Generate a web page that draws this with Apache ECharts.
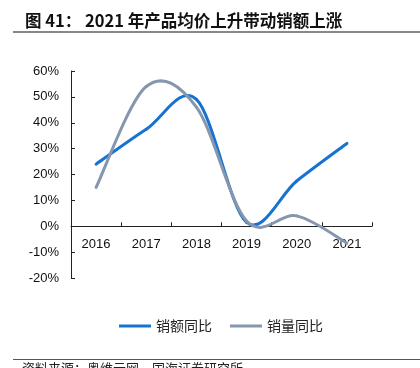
<!DOCTYPE html>
<html>
<head>
<meta charset="utf-8">
<script src="https://cdn.jsdelivr.net/npm/echarts@6/dist/echarts.min.js"></script>
<style>
html, body { margin: 0; padding: 0; background: #fff; }
#chart { width: 420px; height: 368px; }
</style>
</head>
<body>
<div id="chart"></div>
<script>
// 年份
var years = ["2016", "2017", "2018", "2019", "2020", "2021"]
// 销额同比 (%)
var salesValueYoY = [24, 37.5, 49, 1.5, 17.5, 32]
// 销量同比 (%)
var salesVolumeYoY = [15, 54, 46, 2, 4, -6.5]
// y轴刻度
var yMin = -20
var yMax = 60
var yStep = 10

var font = "'Liberation Sans', Arial, sans-serif"
var cjk = "'Noto Sans CJK SC', sans-serif"

// 平滑曲线(类似Excel的平滑线), 每段用贝塞尔曲线画
function smoothLine(name, values, color) {
	return {
		name: name,
		type: "custom",
		color: color,
		itemStyle: { color: color },
		data: values.map(function(v, i) { return [i, v] }),
		encode: { x: 0, y: 1 },
		renderItem: function(params, api) {
			var i = params.dataIndex
			if (i >= values.length - 1) return null
			var pt = function(k) {
				k = Math.max(0, Math.min(values.length - 1, k))
				return api.coord([k, values[k]])
			}
			var p0 = pt(i - 1), p1 = pt(i), p2 = pt(i + 1), p3 = pt(i + 2)
			return {
				type: "bezierCurve",
				shape: {
					x1: p1[0], y1: p1[1],
					x2: p2[0], y2: p2[1],
					cpx1: p1[0] + (p2[0] - p0[0]) / 6,
					cpy1: p1[1] + (p2[1] - p0[1]) / 6,
					cpx2: p2[0] - (p3[0] - p1[0]) / 6,
					cpy2: p2[1] - (p3[1] - p1[1]) / 6
				},
				style: { stroke: color, lineWidth: 3, fill: null, lineCap: "round" }
			}
		}
	}
}

var myChart = echarts.init(document.getElementById("chart"))
var option = {
	animation: false,
	title: {
		text: "图 41： 2021 年产品均价上升带动销额上涨",
		left: 20,
		top: 7,
		textStyle: { fontFamily: cjk, fontSize: 16.5, fontWeight: "bold", color: "#111" }
	},
	graphic: [
		{
			type: "line",
			shape: { x1: 13, y1: 32, x2: 420, y2: 32 },
			style: { stroke: "#888", lineWidth: 2 }
		},
		{
			type: "line",
			shape: { x1: 13, y1: 359.5, x2: 420, y2: 359.5 },
			style: { stroke: "#555", lineWidth: 1 }
		},
		{
			type: "text",
			left: 22,
			top: 362,
			style: { text: "资料来源：奥维云网，国海证券研究所", fontFamily: cjk, fontSize: 13, fill: "#222" }
		}
	],
	legend: {
		bottom: 30,
		left: 114,
		itemWidth: 32,
		itemHeight: 3,
		itemGap: 18,
		icon: "rect",
		textStyle: { fontFamily: cjk, fontSize: 14, color: "#222" },
		data: ["销额同比", "销量同比"]
	},
	grid: {
		left: 71,
		right: 48,
		top: 71,
		bottom: 90,
		containLabel: false
	},
	xAxis: {
		type: "category",
		data: years,
		boundaryGap: true,
		axisLine: { onZero: true, lineStyle: { color: "#222", width: 1 } },
		axisTick: { show: true, inside: true, length: 4, lineStyle: { color: "#222" } },
		axisLabel: { fontFamily: font, fontSize: 13, color: "#111", margin: -40 },
		splitLine: { show: false }
	},
	yAxis: {
		type: "value",
		min: yMin,
		max: yMax,
		interval: yStep,
		axisLine: { show: true, lineStyle: { color: "#222", width: 1 } },
		axisTick: { show: true, inside: true, length: 4, lineStyle: { color: "#222" } },
		axisLabel: {
			fontFamily: font,
			fontSize: 13,
			color: "#111",
			margin: 12,
			formatter: function(v) { return v + "%" }
		},
		splitLine: { show: false }
	},
	series: [
		smoothLine("销额同比", salesValueYoY, "#1673d1"),
		smoothLine("销量同比", salesVolumeYoY, "#8596ae")
	]
}
myChart.setOption(option)
</script>
</body>
</html>
